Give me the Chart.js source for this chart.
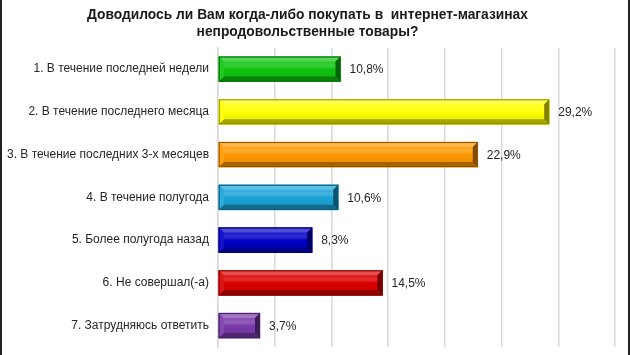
<!DOCTYPE html>
<html>
<head>
<meta charset="utf-8">
<script src="https://cdn.jsdelivr.net/npm/chart.js@4.4.1/dist/chart.umd.min.js"></script>
<style>
  html, body { margin: 0; padding: 0; background: #fff; }
  #wrap { width: 630px; height: 355px; position: relative; }
</style>
</head>
<body>
<div id="wrap"><canvas id="chart" width="630" height="355"></canvas></div>
<script>
// ---- data ----
const titleLines = [
  'Доводилось ли Вам когда-либо покупать в  интернет-магазинах',
  'непродовольственные товары?'
];
const categories = [
  '1. В течение последней недели',
  '2. В течение последнего месяца',
  '3. В течение последних 3-х месяцев',
  '4. В течение полугода',
  '5. Более полугода назад',
  '6. Не совершал(-а)',
  '7. Затрудняюсь ответить'
];
const shares = [10.8, 29.2, 22.9, 10.6, 8.3, 14.5, 3.7];
const barColors = ['#10c410', '#ffff00', '#ff9800', '#1ca4d8', '#0000c8', '#dc0000', '#7a3aaa'];

// ---- colour helpers ----
function shade(hex, f) {
  let r = parseInt(hex.slice(1, 3), 16), g = parseInt(hex.slice(3, 5), 16), b = parseInt(hex.slice(5, 7), 16);
  if (f >= 0) { r += (255 - r) * f; g += (255 - g) * f; b += (255 - b) * f; }
  else { r *= 1 + f; g *= 1 + f; b *= 1 + f; }
  return `rgb(${Math.round(r)},${Math.round(g)},${Math.round(b)})`;
}

// bevelled 3D look on top of every bar element
const bevelBars = {
  id: 'bevelBars',
  afterDatasetsDraw(chart) {
    const c = chart.ctx;
    const meta = chart.getDatasetMeta(0);
    meta.data.forEach((el, i) => {
      const base = barColors[i];
      const l = el.base, r = el.x, t = el.y - el.height / 2, b = el.y + el.height / 2, w = 5;
      c.save();
      // face
      const g = c.createLinearGradient(0, t, 0, b);
      g.addColorStop(0, base);
      g.addColorStop(0.38, shade(base, 0.18));
      g.addColorStop(0.5, base);
      g.addColorStop(1, shade(base, -0.12));
      c.fillStyle = g;
      c.fillRect(l, t, r - l, b - t);
      const poly = (pts, col) => {
        c.beginPath();
        c.moveTo(pts[0][0], pts[0][1]);
        pts.slice(1).forEach(p => c.lineTo(p[0], p[1]));
        c.closePath();
        c.fillStyle = col;
        c.fill();
      };
      poly([[l, t], [r, t], [r - w, t + w], [l + w, t + w]], shade(base, 0.3));
      poly([[l, b], [r, b], [r - w, b - w], [l + w, b - w]], shade(base, -0.35));
      poly([[l, t], [l + w, t + w], [l + w, b - w], [l, b]], shade(base, 0.08));
      poly([[r, t], [r, b], [r - w, b - w], [r - w, t + w]], shade(base, -0.5));
      c.strokeStyle = shade(base, -0.45);
      c.lineWidth = 1;
      c.strokeRect(l + 0.5, t + 0.5, r - l - 1, b - t - 1);
      c.restore();
    });
  }
};

// value labels at the end of bars
const valueLabels = {
  id: 'valueLabels',
  afterDatasetsDraw(chart) {
    const c = chart.ctx;
    const meta = chart.getDatasetMeta(0);
    c.save();
    c.font = '12px Arial, "Liberation Sans", sans-serif';
    c.fillStyle = '#262626';
    c.textAlign = 'left';
    c.textBaseline = 'middle';
    meta.data.forEach((el, i) => {
      c.fillText(shares[i].toFixed(1).replace('.', ',') + '%', el.x + 9, el.y + 1);
    });
    c.restore();
  }
};

// dark side edges of the slide frame
const frame = {
  id: 'frame',
  afterDraw(chart) {
    const c = chart.ctx;
    c.save();
    c.fillStyle = '#222';
    c.fillRect(0, 0, 2, chart.height);
    c.fillRect(chart.width - 2, 0, 2, chart.height);
    c.restore();
  }
};

new Chart(document.getElementById('chart'), {
  type: 'bar',
  data: {
    labels: categories,
    datasets: [{
      data: shares,
      backgroundColor: barColors,
      barThickness: 25
    }]
  },
  options: {
    indexAxis: 'y',
    responsive: false,
    animation: false,
    layout: { padding: { left: 0, right: 15, top: 0, bottom: 8 } },
    plugins: {
      legend: { display: false },
      tooltip: { enabled: false },
      title: {
        display: true,
        text: titleLines,
        color: '#1a1a1a',
        font: { family: 'Arial, "Liberation Sans", sans-serif', size: 13.8, weight: 'bold', lineHeight: 1.22 },
        padding: { top: 7, bottom: 7 }
      }
    },
    scales: {
      x: {
        min: 0,
        max: 35,
        afterFit(scale) { scale.height = 0; },
        ticks: { display: false, stepSize: 5 },
        grid: { color: '#d9d9d9', lineWidth: 1.5, drawTicks: false },
        border: { display: false }
      },
      y: {
        afterFit(scale) {
          scale.width = 218;
          scale.paddingTop = 0;
          scale.paddingBottom = 0;
        },
        ticks: {
          color: '#262626',
          padding: 9,
          font: { family: 'Arial, "Liberation Sans", sans-serif', size: 12 }
        },
        grid: { display: false, drawTicks: false },
        border: { display: true, color: '#d9d9d9', width: 1.5 }
      }
    }
  },
  plugins: [bevelBars, valueLabels, frame]
});
</script>
</body>
</html>
